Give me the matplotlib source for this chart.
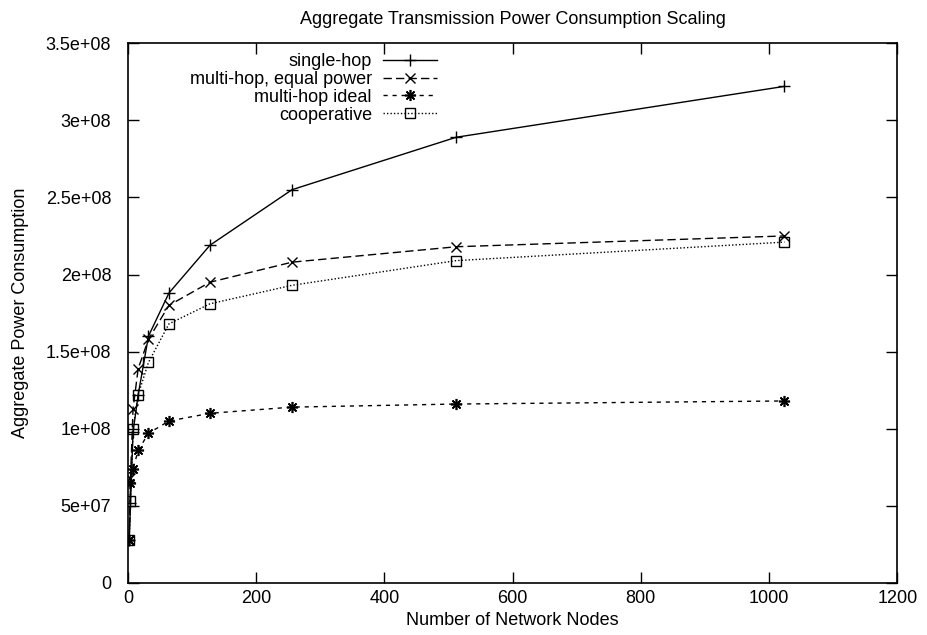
import matplotlib
matplotlib.use("Agg")
import matplotlib.pyplot as plt
from matplotlib.ticker import FuncFormatter

plt.rcParams['font.family'] = ['Liberation Sans', 'DejaVu Sans']

nodes = [2, 4, 8, 16, 32, 64, 128, 256, 512, 1024]
single_hop = [2.8e7, 5.2e7, 9.8e7, 1.22e8, 1.60e8, 1.88e8, 2.19e8, 2.55e8, 2.89e8, 3.22e8]
multi_equal = [2.8e7, 6.8e7, 1.13e8, 1.39e8, 1.58e8, 1.80e8, 1.95e8, 2.08e8, 2.18e8, 2.25e8]
multi_ideal = [2.8e7, 6.5e7, 7.4e7, 8.6e7, 9.7e7, 1.05e8, 1.10e8, 1.14e8, 1.16e8, 1.18e8]
cooperative = [2.8e7, 5.3e7, 1.0e8, 1.22e8, 1.43e8, 1.68e8, 1.81e8, 1.93e8, 2.09e8, 2.21e8]

x_ticks = [0, 200, 400, 600, 800, 1000, 1200]
y_ticks = [0, 5e7, 1e8, 1.5e8, 2e8, 2.5e8, 3e8, 3.5e8]

fig = plt.figure(figsize=(9.27, 6.35), dpi=100)
ax = fig.add_axes([0.138, 0.082, 0.83, 0.85])

ax.plot(nodes, single_hop, color='black', lw=1, ls='-', marker='+',
        ms=9, mew=1, label='single-hop')
ax.plot(nodes, multi_equal, color='black', lw=1, ls=(0, (6, 3)), marker='x',
        ms=7, mew=1, label='multi-hop, equal power')
ax.plot(nodes, multi_ideal, color='black', lw=1, ls=(0, (3, 3.5)), marker=(8, 2, 0),
        ms=8, mew=1.2, label='multi-hop ideal')
ax.plot(nodes, cooperative, color='black', lw=1, ls=(0, (1, 1.5)), marker='s',
        ms=7, mew=1, mfc='none', label='cooperative')

ax.set_xlim(0, 1200)
ax.set_ylim(0, 3.5e8)
ax.set_xticks(x_ticks)
ax.set_yticks(y_ticks)
ax.yaxis.set_major_formatter(FuncFormatter(lambda v, p: '%g' % v))
ax.tick_params(direction='in', length=8, width=1, top=True, right=True,
               labelsize=13)
ax.tick_params(axis='x', pad=5)
ax.tick_params(axis='y', pad=12)
for s in ax.spines.values():
    s.set_linewidth(1.2)

ax.set_title('Aggregate Transmission Power Consumption Scaling', fontsize=13, pad=14)
ax.set_xlabel('Number of Network Nodes', fontsize=13, labelpad=4)
ax.set_ylabel('Aggregate Power Consumption', fontsize=13, labelpad=12)

ax.legend(loc='upper right', bbox_to_anchor=(437 / 927, 1 - 53 / 635),
          bbox_transform=fig.transFigure, frameon=False, markerfirst=False,
          fontsize=13, handlelength=3.0, handletextpad=0.6, labelspacing=0.05,
          borderpad=0, borderaxespad=0)

fig.savefig('out.png', dpi=100)
